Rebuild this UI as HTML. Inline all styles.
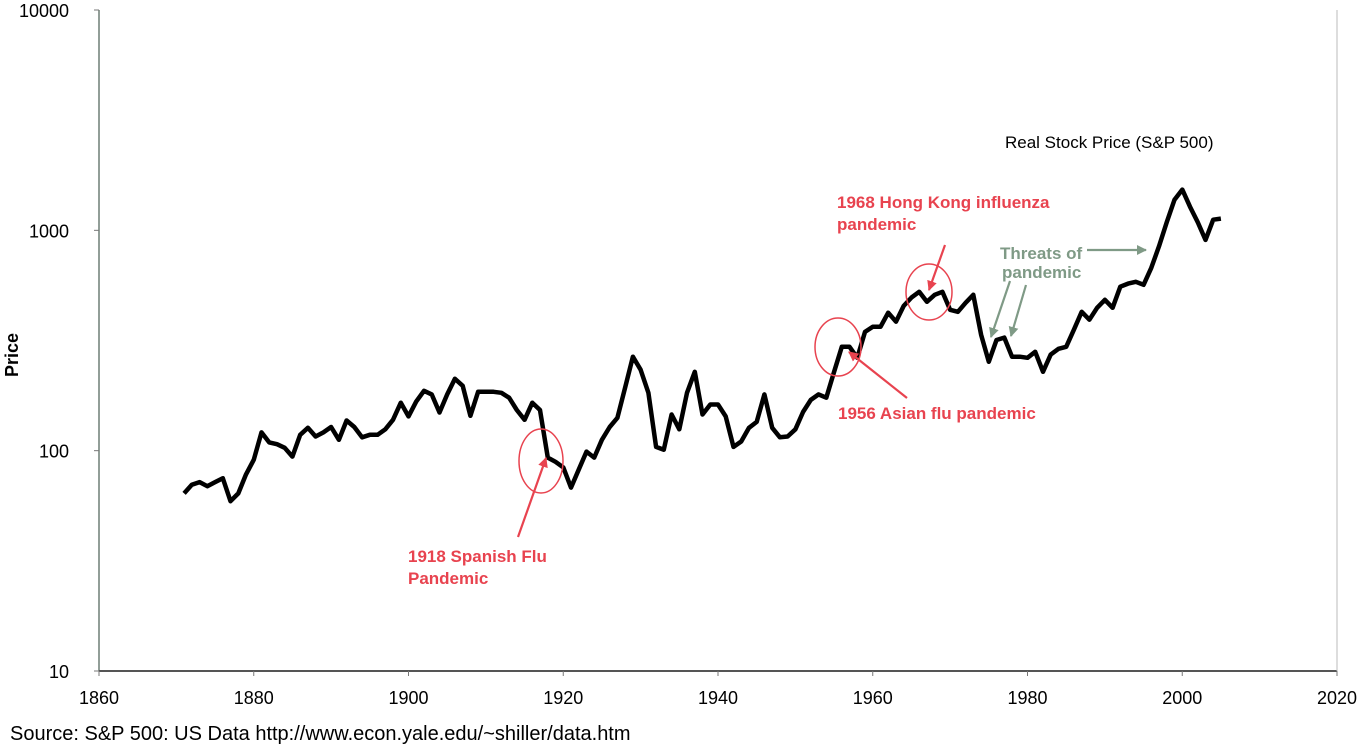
<!DOCTYPE html>
<html><head><meta charset="utf-8"><style>
html,body{margin:0;padding:0;background:#fff;}
svg{display:block;font-family:"Liberation Sans",Arial,sans-serif;}
</style></head><body>
<svg id="chart" width="1358" height="748" viewBox="0 0 1358 748">
<g id="axes"></g>
<g id="series"></g>
<g id="annot"></g>
<text x="12" y="355" transform="rotate(-90 12 355)" text-anchor="middle" dominant-baseline="central" font-size="18" font-weight="bold">Price</text>
<text x="1005" y="148" font-size="17">Real Stock Price (S&amp;P 500)</text>
<text x="10" y="740" font-size="20">Source: S&amp;P 500: US Data http://www.econ.yale.edu/~shiller/data.htm</text>
</svg>
<script>
const startYear = 1871;
const prices = [64,70,72,69,72,75,59,64,78,91,121,109,107,103,94,118,127,116,121,128,112,137,128,115,118,118,125,138,165,143,167,187,180,149,180,212,197,144,185,185,185,183,174,153,138,165,153,93,89,84,
68,82,99,93,112,128,141,193,267,233,183,104,101,146,125,183,228,146,162,162,143,104,110,127,135,180,127,115,116,125,150,170,180,174,228,296,296,264,346,365,365,423,385,454,495,526,474,510,526,436,427,469,510,336,253,318,326,267,267,264,281,228,273,290,296,354,427,393,445,484,445,555,573,584,566,676,846,1090,1378,1530,1280,1090,905,1117,1130];
const xTicks = [1860,1880,1900,1920,1940,1960,1980,2000,2020];
const yTicks = [10,100,1000,10000];
const yTickLabels = ["10","100","1000","10000"];

const NS = "http://www.w3.org/2000/svg";
const X0=99, X1=1337, YB=671, YT=10;
function xs(yr){return X0+(yr-1860)/(2020-1860)*(X1-X0);}
function ys(v){return YB-(Math.log10(v)-1)/3*(YB-YT);}
function mk(tag,attrs,parent){const e=document.createElementNS(NS,tag);for(const k in attrs)e.setAttribute(k,attrs[k]);parent.appendChild(e);return e;}

const axes=document.getElementById('axes');
let l=mk('line',{x1:X0,y1:YT,x2:X0,y2:YB,stroke:'#6f7f76','stroke-width':1.5},axes);


l=mk('line',{x1:X0,y1:YB,x2:X1,y2:YB,stroke:'#555','stroke-width':2},axes);


l=mk('line',{x1:X1,y1:YT,x2:X1,y2:YB,stroke:'#bbb','stroke-width':1},axes);


xTicks.forEach(t=>{
  const x=xs(t);
  const tk=mk('line',{x1:x,y1:YB,x2:x,y2:YB+5,stroke:'#777','stroke-width':1},axes);
  
  
  const tx=mk('text',{x:x,y:YB+33,'text-anchor':'middle','font-size':18},axes);
  tx.textContent=t;
  
  
});
yTicks.forEach((t,i)=>{
  const y=ys(t);
  const tk=mk('line',{x1:X0-5,y1:y,x2:X0,y2:y,stroke:'#777','stroke-width':1},axes);
  
  
  const tx=mk('text',{x:X0-30,y:y+7,'text-anchor':'end','font-size':18},axes);
  tx.textContent=yTickLabels[i];
  
  
});

const series=document.getElementById('series');
const pts=prices.map((v,i)=>xs(startYear+i).toFixed(1)+','+ys(v).toFixed(1)).join(' ');
const pl=mk('polyline',{points:pts,fill:'none',stroke:'#000','stroke-width':4.5,'stroke-linejoin':'round'},series);



const an=document.getElementById('annot');
const RED='#e8434f', GRN='#7f9a86';
const defs=mk('defs',{},an);
const m1=mk('marker',{id:'ar',markerWidth:10,markerHeight:10,refX:9,refY:5,orient:'auto',markerUnits:'userSpaceOnUse'},defs);
mk('path',{d:'M0,0 L10,5 L0,10 z',fill:RED},m1);
const m2=mk('marker',{id:'ag',markerWidth:10,markerHeight:10,refX:9,refY:5,orient:'auto',markerUnits:'userSpaceOnUse'},defs);
mk('path',{d:'M0,0 L10,5 L0,10 z',fill:GRN},m2);
[[541,461,22,32],[838,347,23,29],[929,292,23,28]].forEach(c=>{
  const e=mk('ellipse',{cx:c[0],cy:c[1],rx:c[2],ry:c[3],fill:'none',stroke:RED,'stroke-width':1.5},an);
  
  
});
[[518,537,546,458,'ar',RED],[907,398,849,352,'ar',RED],[945,245,929,290,'ar',RED],
 [1087,250,1146,250,'ag',GRN],[1010,281,991,337,'ag',GRN],[1026,285,1011,336,'ag',GRN]].forEach(a=>{
  const e=mk('line',{x1:a[0],y1:a[1],x2:a[2],y2:a[3],stroke:a[5],'stroke-width':2.2,'marker-end':'url(#'+a[4]+')'},an);
  
  
});
[["1918 Spanish Flu",408,562,RED],["Pandemic",408,584,RED],["1956 Asian flu pandemic",838,419,RED],
 ["1968 Hong Kong influenza",837,208,RED],["pandemic",837,230,RED],["Threats of",1000,259,GRN],["pandemic",1002,278,GRN]].forEach(t=>{
  const e=mk('text',{x:t[1],y:t[2],fill:t[3],'font-size':17,'font-weight':'bold'},an);
  e.textContent=t[0];
  
  
});
</script>
</body></html>
